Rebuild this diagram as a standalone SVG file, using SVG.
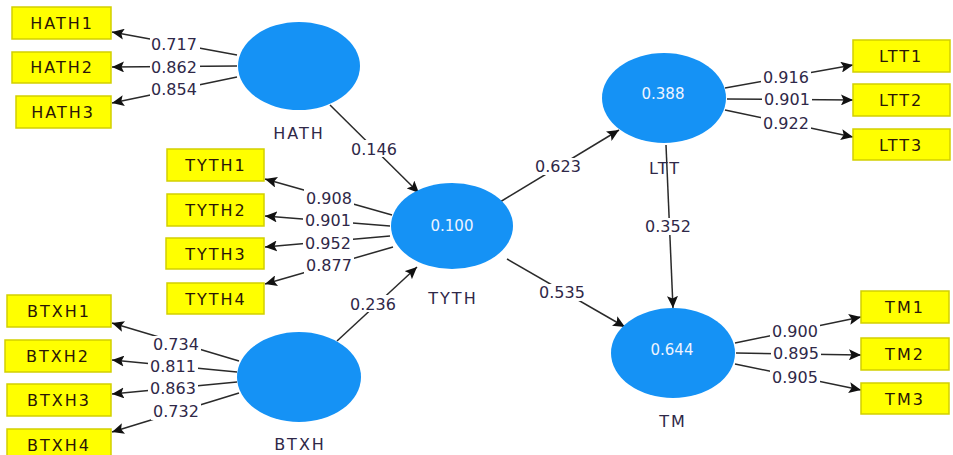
<svg xmlns="http://www.w3.org/2000/svg" width="953" height="455" viewBox="0 0 953 455">
  <style>
    .bg { fill: #ffffff; }
    .lv ellipse { fill: #1592f5; }
    .lv .r2 { font: 15px "DejaVu Sans", sans-serif; fill: #eef4ff; text-anchor: middle; }
    .lv .nm { font: 16px "DejaVu Sans", sans-serif; fill: #2f2848; text-anchor: middle; letter-spacing: 2px; }
    .ind rect { fill: #ffff00; stroke: #d2cf00; stroke-width: 1.5; }
    .ind text { font: 16px "DejaVu Sans", sans-serif; fill: #2a1608; text-anchor: middle; letter-spacing: 2px; }
    .edges line { stroke: #2a2a2a; stroke-width: 1.5; marker-end: url(#head); }
    .lbl rect { fill: #ffffff; }
    .lbl text { font: 16px "DejaVu Sans", sans-serif; fill: #2f2848; text-anchor: middle; }
  </style>
  <defs>
    <marker id="head" markerUnits="userSpaceOnUse" markerWidth="13" markerHeight="11" refX="12" refY="5.5" orient="auto">
      <path d="M0,0 L12,5.5 L0,11 L2.5,5.5 z" fill="#111111"/>
    </marker>
  </defs>
  <rect class="bg" x="0" y="0" width="953" height="455"/>

  <!-- connectors -->
  <g id="connectors" class="edges">
    <!-- HATH loadings -->
    <line x1="237" y1="55" x2="112" y2="32"/>
    <line x1="237" y1="66" x2="112" y2="67"/>
    <line x1="237" y1="77" x2="112" y2="103"/>
    <!-- TYTH loadings -->
    <line x1="392" y1="215" x2="265" y2="179"/>
    <line x1="390" y1="226" x2="265" y2="216"/>
    <line x1="390" y1="236" x2="265" y2="247"/>
    <line x1="393" y1="247" x2="265" y2="284"/>
    <!-- BTXH loadings -->
    <line x1="239" y1="361" x2="112" y2="323"/>
    <line x1="237" y1="372" x2="112" y2="360"/>
    <line x1="237" y1="382" x2="112" y2="394"/>
    <line x1="239" y1="393" x2="112" y2="432"/>
    <!-- LTT loadings -->
    <line x1="725" y1="88" x2="853" y2="65"/>
    <line x1="727" y1="99" x2="853" y2="100"/>
    <line x1="725" y1="110" x2="853" y2="137"/>
    <!-- TM loadings -->
    <line x1="735" y1="343" x2="861" y2="317"/>
    <line x1="736" y1="353" x2="861" y2="355"/>
    <line x1="735" y1="364" x2="861" y2="390"/>
    <!-- structural paths -->
    <line x1="330" y1="105" x2="419" y2="193"/>
    <line x1="337" y1="341" x2="417" y2="267"/>
    <line x1="500" y1="202" x2="619" y2="130"/>
    <line x1="507" y1="259" x2="625" y2="327"/>
    <line x1="666" y1="145" x2="673" y2="308"/>
  </g>

  <!-- path coefficients and loadings -->
  <g id="labels" class="lbl">
    <rect x="150" y="35" width="50" height="17"/><text x="174" y="50">0.717</text>
    <rect x="150" y="59" width="50" height="17"/><text x="174" y="73">0.862</text>
    <rect x="150" y="81" width="50" height="17"/><text x="174" y="95">0.854</text>
    <rect x="349" y="140" width="50" height="17"/><text x="374" y="155">0.146</text>
    <rect x="304" y="189" width="50" height="17"/><text x="329" y="204">0.908</text>
    <rect x="303" y="212" width="50" height="17"/><text x="328" y="226">0.901</text>
    <rect x="303" y="235" width="50" height="17"/><text x="328" y="249">0.952</text>
    <rect x="304" y="257" width="50" height="17"/><text x="329" y="271">0.877</text>
    <rect x="348" y="295" width="50" height="17"/><text x="373" y="310">0.236</text>
    <rect x="151" y="336" width="50" height="17"/><text x="176" y="350">0.734</text>
    <rect x="148" y="358" width="50" height="17"/><text x="173" y="372">0.811</text>
    <rect x="148" y="380" width="50" height="17"/><text x="173" y="394">0.863</text>
    <rect x="151" y="403" width="50" height="17"/><text x="176" y="417">0.732</text>
    <rect x="533" y="158" width="50" height="17"/><text x="558" y="172">0.623</text>
    <rect x="537" y="284" width="50" height="17"/><text x="562" y="298">0.535</text>
    <rect x="643" y="218" width="50" height="17"/><text x="668" y="232">0.352</text>
    <rect x="761" y="69" width="50" height="17"/><text x="786" y="83">0.916</text>
    <rect x="762" y="91" width="50" height="17"/><text x="787" y="105">0.901</text>
    <rect x="761" y="115" width="50" height="17"/><text x="786" y="129">0.922</text>
    <rect x="770" y="323" width="50" height="17"/><text x="795" y="337">0.900</text>
    <rect x="771" y="345" width="50" height="17"/><text x="796" y="359">0.895</text>
    <rect x="770" y="369" width="50" height="17"/><text x="795" y="383">0.905</text>
  </g>

  <!-- latent variables -->
  <g id="HATH" class="lv">
    <ellipse cx="299" cy="66" rx="61" ry="44"/>
    <text class="nm" x="299" y="139">HATH</text>
  </g>
  <g id="TYTH" class="lv">
    <ellipse cx="452" cy="226" rx="61" ry="43"/>
    <text class="r2" x="452" y="231">0.100</text>
    <text class="nm" x="453" y="304">TYTH</text>
  </g>
  <g id="BTXH" class="lv">
    <ellipse cx="299" cy="377" rx="62" ry="45"/>
    <text class="nm" x="300" y="450">BTXH</text>
  </g>
  <g id="LTT" class="lv">
    <ellipse cx="664" cy="98" rx="62" ry="45"/>
    <text class="r2" x="663" y="99">0.388</text>
    <text class="nm" x="665" y="174">LTT</text>
  </g>
  <g id="TM" class="lv">
    <ellipse cx="673" cy="353" rx="62" ry="45"/>
    <text class="r2" x="672" y="355">0.644</text>
    <text class="nm" x="673" y="427">TM</text>
  </g>

  <!-- indicators -->
  <g id="HATH1" class="ind"><rect x="12" y="7" width="99" height="32"/><text x="62" y="29">HATH1</text></g>
  <g id="HATH2" class="ind"><rect x="12" y="52" width="99" height="31"/><text x="62" y="73">HATH2</text></g>
  <g id="HATH3" class="ind"><rect x="16" y="96" width="95" height="32"/><text x="63" y="118">HATH3</text></g>
  <g id="TYTH1" class="ind"><rect x="167" y="149" width="97" height="32"/><text x="216" y="171">TYTH1</text></g>
  <g id="TYTH2" class="ind"><rect x="167" y="194" width="97" height="32"/><text x="216" y="216">TYTH2</text></g>
  <g id="TYTH3" class="ind"><rect x="166" y="238" width="98" height="31"/><text x="216" y="260">TYTH3</text></g>
  <g id="TYTH4" class="ind"><rect x="167" y="283" width="97" height="31"/><text x="216" y="305">TYTH4</text></g>
  <g id="BTXH1" class="ind"><rect x="7" y="295" width="104" height="32"/><text x="59" y="317">BTXH1</text></g>
  <g id="BTXH2" class="ind"><rect x="5" y="340" width="106" height="32"/><text x="58" y="362">BTXH2</text></g>
  <g id="BTXH3" class="ind"><rect x="7" y="384" width="104" height="32"/><text x="59" y="406">BTXH3</text></g>
  <g id="BTXH4" class="ind"><rect x="7" y="429" width="104" height="32"/><text x="59" y="451">BTXH4</text></g>
  <g id="LTT1" class="ind"><rect x="853" y="40" width="97" height="32"/><text x="901" y="62">LTT1</text></g>
  <g id="LTT2" class="ind"><rect x="853" y="84" width="97" height="32"/><text x="901" y="106">LTT2</text></g>
  <g id="LTT3" class="ind"><rect x="853" y="129" width="97" height="31"/><text x="901" y="151">LTT3</text></g>
  <g id="TM1" class="ind"><rect x="861" y="291" width="88" height="32"/><text x="905" y="313">TM1</text></g>
  <g id="TM2" class="ind"><rect x="861" y="338" width="88" height="32"/><text x="905" y="360">TM2</text></g>
  <g id="TM3" class="ind"><rect x="861" y="383" width="88" height="31"/><text x="905" y="405">TM3</text></g>
</svg>
